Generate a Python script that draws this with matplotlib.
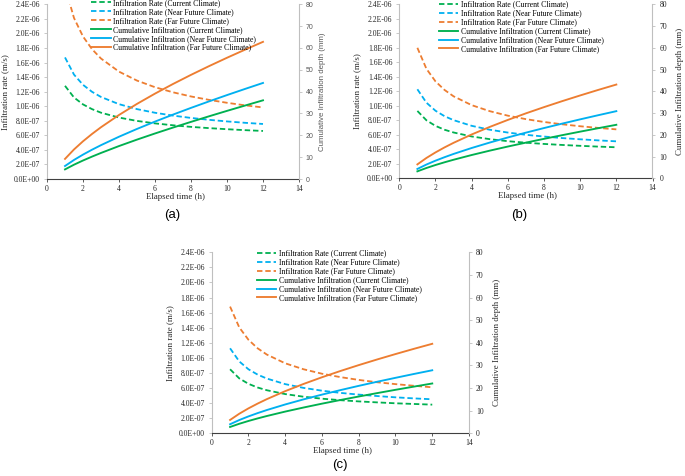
import matplotlib.pyplot as plt
from matplotlib.ticker import MultipleLocator, FuncFormatter
import numpy as np

plt.rcParams['font.family'] = ['Liberation Serif', 'DejaVu Serif']

# elapsed time (h)
hours = [1, 1.5, 2, 2.5, 3, 4, 5, 6, 7, 8, 9, 10, 11, 12]

# infiltration rate, in 1e-6 m/s ; cumulative infiltration in mm
# (a)
rate_cur_a = [1.280, 1.120, 1.025, 0.960, 0.911, 0.844, 0.798, 0.764, 0.738, 0.716, 0.699, 0.684, 0.671, 0.660]
rate_near_a = [1.670, 1.434, 1.294, 1.198, 1.127, 1.028, 0.960, 0.910, 0.871, 0.839, 0.813, 0.791, 0.772, 0.756]
rate_far_a = [2.640, 2.212, 1.958, 1.784, 1.655, 1.475, 1.352, 1.261, 1.191, 1.134, 1.087, 1.047, 1.012, 0.983]
cum_cur_a = [4.40, 6.55, 8.47, 10.25, 11.93, 15.09, 18.04, 20.85, 23.55, 26.16, 28.71, 31.20, 33.63, 36.03]
cum_near_a = [5.95, 8.72, 11.17, 13.41, 15.50, 19.36, 22.93, 26.29, 29.49, 32.57, 35.54, 38.43, 41.24, 43.99]
cum_far_a = [9.20, 13.53, 17.27, 20.62, 23.71, 29.32, 34.40, 39.10, 43.51, 47.69, 51.68, 55.52, 59.22, 62.81]

# (b)
rate_cur_b = [0.929, 0.800, 0.723, 0.670, 0.632, 0.577, 0.540, 0.512, 0.491, 0.474, 0.460, 0.448, 0.437, 0.428]
rate_near_b = [1.228, 1.043, 0.932, 0.857, 0.802, 0.724, 0.670, 0.631, 0.600, 0.576, 0.555, 0.538, 0.523, 0.510]
rate_far_b = [1.800, 1.510, 1.337, 1.219, 1.131, 1.009, 0.926, 0.864, 0.816, 0.777, 0.745, 0.718, 0.695, 0.675]
cum_cur_b = [3.20, 4.74, 6.11, 7.36, 8.53, 10.70, 12.71, 14.60, 16.40, 18.14, 19.82, 21.45, 23.04, 24.60]
cum_near_b = [4.30, 6.33, 8.10, 9.70, 11.20, 13.93, 16.43, 18.77, 20.99, 23.10, 25.13, 27.10, 29.01, 30.87]
cum_far_b = [6.40, 9.35, 11.90, 14.20, 16.31, 20.15, 23.62, 26.84, 29.86, 32.72, 35.46, 38.09, 40.64, 43.10]

# (c)
rate_cur_c = [0.849, 0.728, 0.656, 0.607, 0.571, 0.520, 0.485, 0.459, 0.439, 0.423, 0.410, 0.398, 0.389, 0.380]
rate_near_c = [1.127, 0.953, 0.849, 0.778, 0.726, 0.652, 0.602, 0.565, 0.536, 0.513, 0.494, 0.477, 0.463, 0.451]
rate_far_c = [1.680, 1.404, 1.240, 1.127, 1.044, 0.928, 0.849, 0.790, 0.745, 0.708, 0.677, 0.652, 0.630, 0.610]
cum_cur_c = [2.80, 4.21, 5.45, 6.58, 7.64, 9.60, 11.40, 13.10, 14.71, 16.26, 17.76, 19.22, 20.63, 22.02]
cum_near_c = [4.00, 5.86, 7.47, 8.93, 10.28, 12.75, 15.00, 17.10, 19.08, 20.97, 22.78, 24.52, 26.22, 27.86]
cum_far_c = [5.90, 8.65, 11.02, 13.14, 15.10, 18.63, 21.82, 24.77, 27.53, 30.14, 32.63, 35.02, 37.33, 39.56]

climates = ["Current Climate", "Near Future Climate", "Far Future Climate"]
colors = ["#00b050", "#00b0f0", "#ed7d31"]

W, H = 685, 476
fig = plt.figure(figsize=(W / 100, H / 100), dpi=100)


def px(x, y):
    return x / W, 1 - y / H


def panel(box, rates, cums, leg_xy, tag, tag_xy, sans_right=False):
    l, t, r, b = box
    ax = fig.add_axes([l / W, 1 - b / H, (r - l) / W, (b - t) / H])
    handles = []
    for vals, c, name in zip(rates, colors, climates):
        h, = ax.plot(hours, np.array(vals) * 1e-6, color=c, lw=1.3,
                     ls=(0, (3.0, 1.6)), label="Infiltration Rate (" + name + ")")
        handles.append(h)
    ax2 = ax.twinx()
    for vals, c, name in zip(cums, colors, climates):
        h, = ax2.plot(hours, vals, color=c, lw=1.35,
                      label="Cumulative Infiltration (" + name + ")")
        handles.append(h)

    ax.set_xlim(0, 14)
    ax.set_ylim(0, 2.4e-6)
    ax2.set_ylim(0, 80)
    ax.xaxis.set_major_locator(MultipleLocator(2))
    ax.yaxis.set_major_locator(MultipleLocator(2e-7))
    ax.yaxis.set_major_formatter(FuncFormatter(lambda v, p: f"{v:.1E}"))
    ax2.yaxis.set_major_locator(MultipleLocator(10))

    for s in ["top", "right"]:
        ax.spines[s].set_visible(False)
    for s in ["top", "left", "bottom"]:
        ax2.spines[s].set_visible(False)
    ax.spines["left"].set_color("#bfbfbf")
    ax.spines["bottom"].set_color("#404040")
    ax2.spines["right"].set_color("#bfbfbf")
    for sp in [ax.spines["left"], ax.spines["bottom"], ax2.spines["right"]]:
        sp.set_linewidth(0.8)

    ax.tick_params(axis="y", direction="out", length=2.5, width=0.6, color="#bfbfbf",
                   labelsize=5.5, pad=2.5, labelcolor="#262626")
    ax.tick_params(axis="x", direction="out", length=2.5, width=0.6, color="#404040",
                   labelsize=5.5, pad=1.5, labelcolor="#262626")
    if sans_right:
        ax2.tick_params(axis="y", direction="out", length=2.5, width=0.6, color="#bfbfbf",
                        labelsize=5.0, pad=2.5, labelcolor="#595959")
        for lab in ax2.get_yticklabels():
            lab.set_family("Liberation Sans")
    else:
        ax2.tick_params(axis="y", direction="out", length=2.5, width=0.6, color="#bfbfbf",
                        labelsize=5.5, pad=2.5, labelcolor="#262626")

    cy = (t + b) / 2
    fig.text(*px(l - 42, cy), "Infiltration rate (m/s)", rotation=90,
             ha="center", va="center", fontsize=6.4, color="#262626")
    if sans_right:
        fig.text(*px(r + 24, cy), "Cumulative Infiltration depth (mm)", rotation=90,
                 ha="center", va="center", fontsize=5.7, color="#595959",
                 family="Liberation Sans")
    else:
        fig.text(*px(r + 28, cy), "Cumulative Infiltration depth (mm)", rotation=90,
                 ha="center", va="center", fontsize=6.4, color="#262626")
    fig.text(*px((l + r) / 2 + 2, b + 18), "Elapsed time (h)", ha="center",
             va="center", fontsize=6.4, color="#262626")
    fig.text(*px(*tag_xy), tag, ha="center", va="center", fontsize=9.5,
             family="Liberation Sans")

    fig.legend(handles, [h.get_label() for h in handles], loc="upper left",
               bbox_to_anchor=px(*leg_xy), frameon=False, fontsize=5.6,
               handlelength=2.5, handletextpad=0.3, labelspacing=0.12,
               borderpad=0, borderaxespad=0)


panel((47, 4.3, 299, 179), [rate_cur_a, rate_near_a, rate_far_a],
      [cum_cur_a, cum_near_a, cum_far_a], (91.5, -1), "(a)", (172, 215), sans_right=True)
panel((399.3, 4.3, 652.5, 178.3), [rate_cur_b, rate_near_b, rate_far_b],
      [cum_cur_b, cum_near_b, cum_far_b], (439, 0.5), "(b)", (519, 215))
panel((211.7, 252.3, 469, 433.3), [rate_cur_c, rate_near_c, rate_far_c],
      [cum_cur_c, cum_near_c, cum_far_c], (257, 249.5), "(c)", (340, 465))

fig.savefig("out.png", dpi=100)
